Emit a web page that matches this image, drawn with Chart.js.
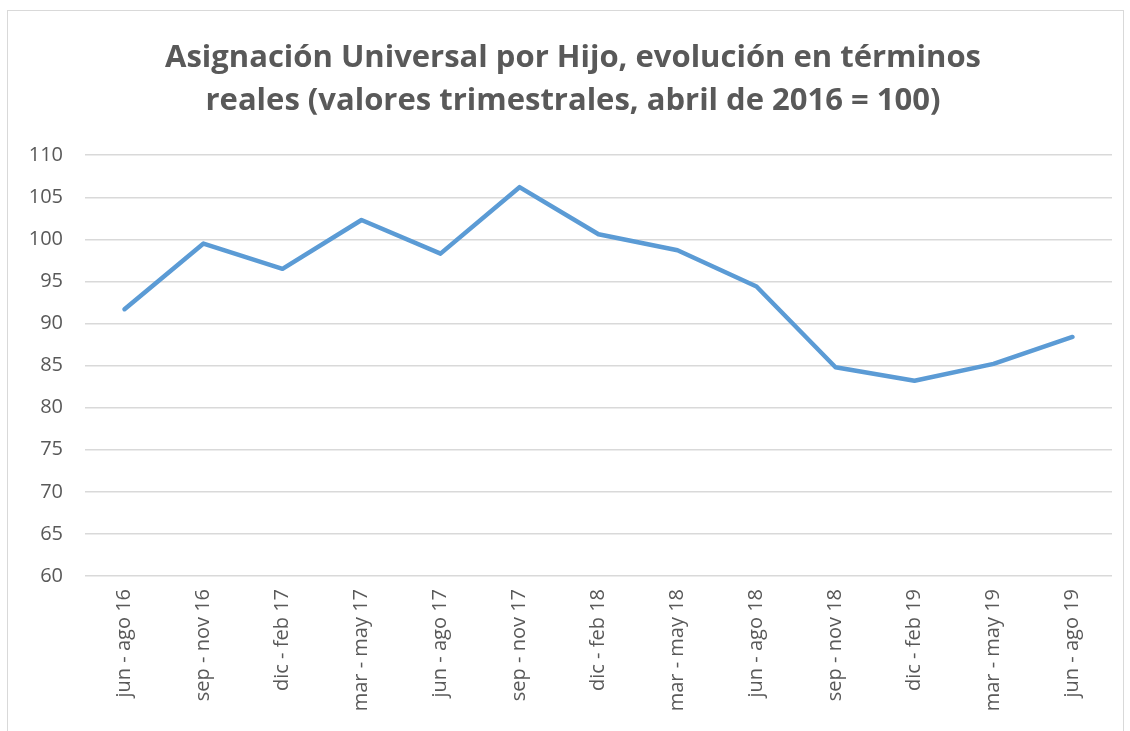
<!DOCTYPE html>
<html>
<head>
<meta charset="utf-8">
<script src="https://cdn.jsdelivr.net/npm/chart.js@4/dist/chart.umd.min.js"></script>
<style>
    html, body { margin: 0; padding: 0; background: #fff; overflow: hidden; }
    #frame {
        position: absolute; left: 7px; top: 10px; width: 1117px; height: 740px;
        border: 1px solid #d9d9d9; box-sizing: border-box;
    }
    #wrap { position: absolute; left: 0; top: 0; width: 1130px; height: 731px; }
</style>
</head>
<body>
<div id="frame"></div>
<div id="wrap"><canvas id="chart"></canvas></div>
<script>
    // Trimestres y valores (abril 2016 = 100)
    const categorias = ['jun - ago 16', 'sep - nov 16', 'dic - feb 17', 'mar - may 17', 'jun - ago 17', 'sep - nov 17',
        'dic - feb 18', 'mar - may 18', 'jun - ago 18', 'sep - nov 18', 'dic - feb 19', 'mar - may 19', 'jun - ago 19'];
    const valores = [91.7, 99.5, 96.5, 102.3, 98.3, 106.2, 100.6, 98.7, 94.4, 84.8, 83.2, 85.2, 88.4];
    const titulo = ['Asignación Universal por Hijo, evolución en términos', 'reales (valores trimestrales, abril de 2016 = 100)'];

    const gris = '#595959';

    // el título del original está algo corrido a la derecha
    const correrTitulo = {
        id: 'correrTitulo',
        afterLayout(chart) {
            if (chart.titleBlock) chart.titleBlock.left = 34;
        }
    };

    new Chart(document.getElementById('chart'), {
        type: 'line',
        data: {
            labels: categorias,
            datasets: [{
                data: valores,
                borderColor: '#5b9bd5',
                borderWidth: 4.5,
                borderCapStyle: 'round',
                borderJoinStyle: 'round',
                pointRadius: 0,
                tension: 0,
                fill: false
            }]
        },
        options: {
            responsive: true,
            maintainAspectRatio: false,
            animation: false,
            layout: { padding: { left: 0, right: 18, top: 0, bottom: 0 } },
            plugins: {
                legend: { display: false },
                tooltip: { enabled: false },
                title: {
                    display: true,
                    text: titulo,
                    color: gris,
                    font: { family: 'Open Sans', size: 31, weight: 'bold', lineHeight: 1.39 },
                    padding: { top: 37, bottom: 32 }
                }
            },
            scales: {
                x: {
                    offset: true,
                    grid: { display: false },
                    border: { display: false },
                    ticks: {
                        color: gris,
                        font: { family: 'Open Sans', size: 20 },
                        minRotation: 90,
                        maxRotation: 90,
                        padding: 5,
                        autoSkip: false
                    },
                    afterFit: s => { s.height = 155; }
                },
                y: {
                    min: 60,
                    max: 110,
                    grid: { color: '#d9d9d9', lineWidth: 1.5, drawTicks: false },
                    border: { display: false },
                    ticks: {
                        stepSize: 5,
                        color: gris,
                        font: { family: 'Open Sans', size: 20 },
                        padding: 22
                    },
                    afterFit: s => { s.width = 85; }
                }
            }
        },
        plugins: [correrTitulo]
    });
</script>
</body>
</html>
